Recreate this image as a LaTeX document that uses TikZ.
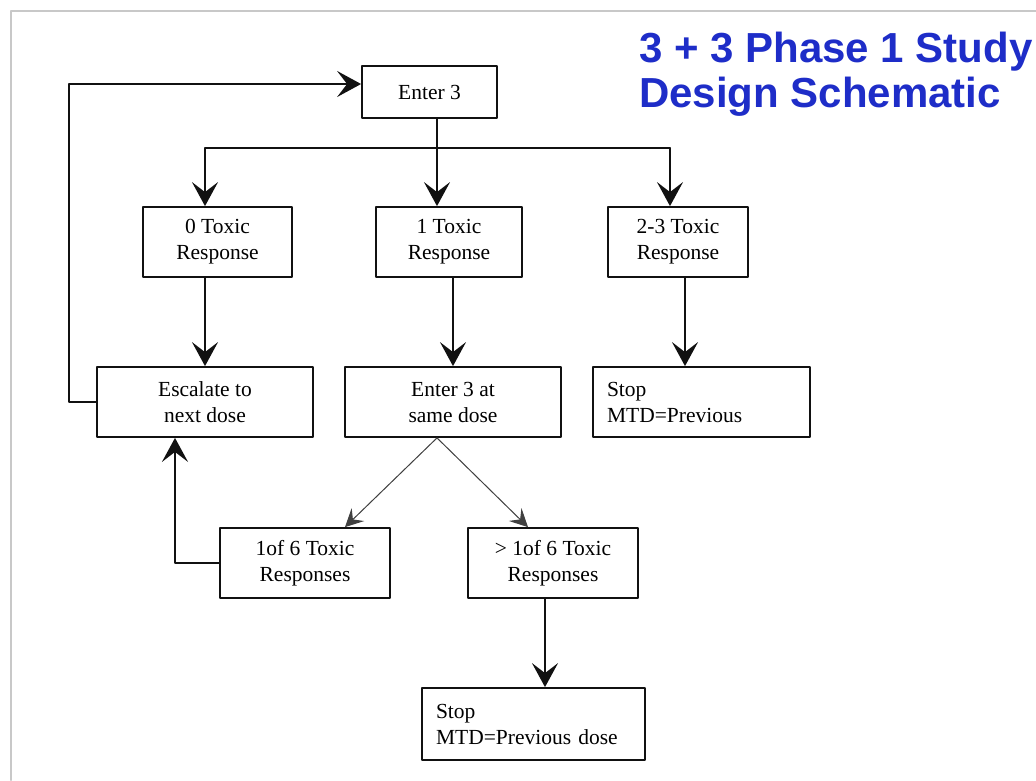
\documentclass[tikz,border=0pt]{standalone}
\usepackage{fontspec}
\setmainfont{Liberation Serif}
\newfontfamily\headfont{Liberation Sans}
\usetikzlibrary{arrows.meta,calc,positioning}
\definecolor{studyBlue}{HTML}{1E2DC8}
\definecolor{studyFrame}{HTML}{C8C8C8}
\definecolor{studyInk}{HTML}{111111}

\begin{document}
\begin{tikzpicture}[x=1pt,y=-1pt,>=Latex,line cap=round,line join=round]
\useasboundingbox[fill=white] (0,0) rectangle (1036,780);
\draw[studyFrame,line width=2pt] (11,780) -- (11,11) -- (1036,11);
\node[anchor=north west,align=left,inner sep=0pt,text=studyBlue,font=\headfont\bfseries\fontsize{42}{45}\selectfont] (head) at (639,32) {3 + 3 Phase 1 Study\\Design Schematic};
\tikzset{box/.style={draw=studyInk,line width=1.8pt,fill=white,align=center,inner sep=0pt,font=\fontsize{21.5}{26}\selectfont},stopbox/.style={box,align=left,inner xsep=14pt},wire/.style={draw=studyInk,line width=1.8pt},link/.style={wire,-{Stealth[length=24pt,width=26pt,inset=10pt]}},thinlink/.style={draw=black!75,line width=1pt,-{Stealth[length=18pt,width=18pt,inset=7pt]}}}
\node[box,minimum width=135pt,minimum height=52pt] (enter) at (429.5,92) {Enter 3};
\node[box,minimum width=149pt,minimum height=70pt] (toxZero) at (217.5,242) {0 Toxic\\Response};
\node[box,minimum width=146pt,minimum height=70pt] (toxOne) at (449,242) {1 Toxic\\Response};
\node[box,minimum width=140pt,minimum height=70pt] (toxMany) at (678,242) {2-3 Toxic\\Response};
\node[box,minimum width=216pt,minimum height=70pt] (escalate) at (205,402) {Escalate to\\next dose};
\node[box,minimum width=216pt,minimum height=70pt] (sameDose) at (453,402) {Enter 3 at\\same dose};
\node[stopbox,text width=189pt,minimum height=70pt] (stopPrev) at (701.5,402) {Stop\\MTD=Previous};
\node[box,minimum width=170pt,minimum height=70pt] (oneSix) at (305,563) {1of 6 Toxic\\Responses};
\node[box,minimum width=170pt,minimum height=70pt] (moreSix) at (553,563) {> 1of 6 Toxic\\Responses};
\node[stopbox,text width=195pt,minimum height=72pt] (stopDose) at (533.5,724) {Stop\\MTD=Previous dose};
% split of the first cohort
\coordinate (split) at (437,148);
\coordinate (busL) at (205,148);
\coordinate (busR) at (670,148);
\draw[wire] (enter.south -| split) -- (split);
\draw[wire] (busL) -- (busR);
\draw[link] (busL) -- (busL |- toxZero.north);
\draw[link] (split) -- (split |- toxOne.north);
\draw[link] (busR) -- (busR |- toxMany.north);
\draw[link] (escalate.north |- toxZero.south) -- (escalate.north);
\draw[link] (sameDose.north |- toxOne.south) -- (sameDose.north);
\draw[link] ([xshift=7pt]toxMany.south) -- ([xshift=7pt]toxMany.south |- stopPrev.north);
\draw[link] (escalate.west) -- ++(-27,0) |- ([yshift=8pt]enter.west);
% second cohort
\coordinate (fork) at (sameDose.south -| split);
\draw[thinlink] (fork) -- ([xshift=40pt]oneSix.north);
\draw[thinlink] (fork) -- ([xshift=-25pt]moreSix.north);
\draw[link] (oneSix.west) -| ([xshift=-30pt]escalate.south);
\draw[link] ([xshift=-8pt]moreSix.south) -- ([xshift=-8pt]moreSix.south |- stopDose.north);
\end{tikzpicture}
\end{document}
